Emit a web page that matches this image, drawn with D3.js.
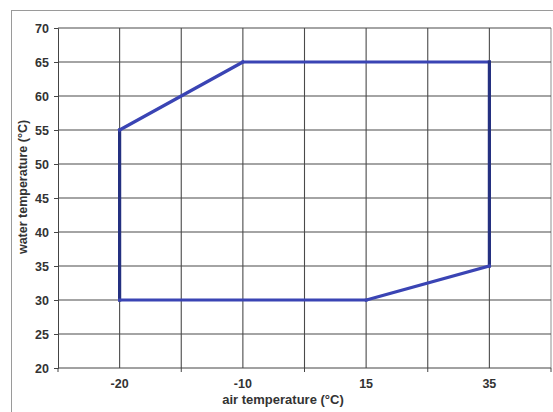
<!DOCTYPE html>
<html><head><meta charset="utf-8">
<script src="https://cdn.jsdelivr.net/npm/d3@7"></script>
<style>
body{margin:0;background:#fff;}
text{font-family:"Liberation Sans",Arial,sans-serif;}
</style></head>
<body>
<svg id="c" width="553" height="412"></svg>
<script>
const categories = ["-20", "-10", "15", "35"];
const yTicks = [20, 25, 30, 35, 40, 45, 50, 55, 60, 65, 70];
// envelope polygon: air temperature category, water temperature
const envAir   = ["-20", "-20", "-10", "35", "35", "15", "-20"];
const envWater = [30, 55, 65, 65, 35, 30, 30];

const svg = d3.select("#c");
const W = 553, H = 412;
const plot = {l: 58, r: 551, t: 28, b: 368};

// outer frame
svg.append("rect").attr("x", 11.5).attr("y", 10.5).attr("width", W + 20).attr("height", H + 20)
  .attr("fill", "none").attr("stroke", "#9a9a9a").attr("stroke-width", 1);

const x = d3.scaleBand().domain(categories).range([plot.l, plot.r]).padding(0);
const y = d3.scaleLinear().domain([20, 70]).range([plot.b, plot.t]);
const bw = x.bandwidth();
const cx = c => x(c) + bw / 2;

const g = svg.append("g");
const vx = [];
categories.forEach(c => { vx.push(x(c)); vx.push(cx(c)); });
vx.push(plot.r);
g.selectAll("line.vg").data(vx.slice(1)).join("line")
  .attr("x1", d => d).attr("x2", d => d).attr("y1", plot.t).attr("y2", plot.b)
  .attr("stroke", d => d === plot.r ? "#999" : "#4a4a4a").attr("stroke-width", 1.1);
g.selectAll("line.hg").data(yTicks.slice(1)).join("line")
  .attr("x1", plot.l).attr("x2", plot.r).attr("y1", d => y(d)).attr("y2", d => y(d))
  .attr("stroke", "#4a4a4a").attr("stroke-width", 1.1);

// y axis
const ya = svg.append("g").attr("transform", `translate(${plot.l},0)`)
  .call(d3.axisLeft(y).tickValues(yTicks).tickSize(4).tickPadding(5));
ya.select(".domain").attr("stroke", "#444");
ya.selectAll(".tick line").attr("stroke", "#444");
ya.selectAll("text").attr("font-size", 12.5).attr("fill", "#333").attr("font-weight", "bold");

// x axis
const xa = svg.append("g").attr("transform", `translate(0,${plot.b})`);
xa.append("line").attr("x1", plot.l).attr("x2", plot.r).attr("stroke", "#444");
const bounds = categories.map(c => x(c)).concat([plot.r]);
xa.selectAll("line.t").data(bounds).join("line")
  .attr("x1", d => d).attr("x2", d => d).attr("y1", 0).attr("y2", 4).attr("stroke", "#444");
xa.selectAll("text").data(categories).join("text")
  .attr("x", d => cx(d)).attr("y", 19.5).attr("text-anchor", "middle")
  .attr("font-size", 12.5).attr("font-weight", "bold").attr("fill", "#333").text(d => d);

// titles
svg.append("text").attr("x", 283).attr("y", 404).attr("text-anchor", "middle")
  .attr("font-size", 13).attr("font-weight", "bold").attr("fill", "#333")
  .text("air temperature (°C)");
svg.append("text").attr("transform", "translate(27,187) rotate(-90)").attr("text-anchor", "middle")
  .attr("font-size", 12.5).attr("font-weight", "bold").attr("fill", "#333")
  .text("water temperature (°C)");

// envelope line
const pts = envAir.map((a, i) => [cx(a), y(envWater[i])]);
const segs = d3.pairs(pts);
svg.append("g").selectAll("line").data(segs).join("line")
  .attr("x1", d => d[0][0]).attr("y1", d => d[0][1])
  .attr("x2", d => d[1][0]).attr("y2", d => d[1][1])
  .attr("stroke", d => Math.abs(d[0][0] - d[1][0]) < 0.5 ? "#243080" : "#3a44b4")
  .attr("stroke-width", 3.2).attr("stroke-linecap", "square");
</script>
</body></html>
